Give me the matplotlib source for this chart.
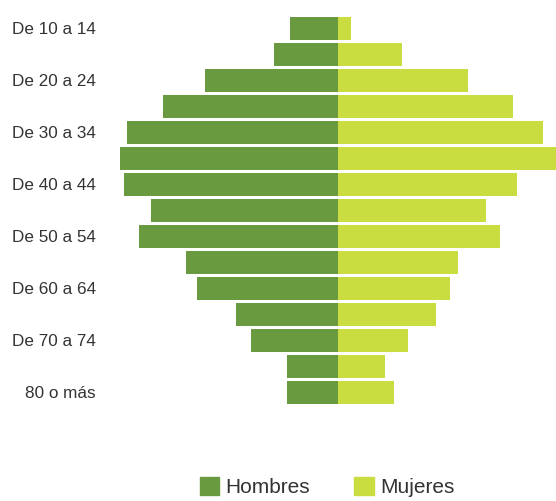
import numpy as np
import matplotlib
matplotlib.use("Agg")
import matplotlib.pyplot as plt
from matplotlib.patches import Patch

plt.rcParams['font.family'] = ['Liberation Sans', 'DejaVu Sans']

# grupos de edad, de arriba a abajo
grupos = ["De 10 a 14", "De 15 a 19", "De 20 a 24", "De 25 a 29", "De 30 a 34",
          "De 35 a 39", "De 40 a 44", "De 45 a 49", "De 50 a 54", "De 55 a 59",
          "De 60 a 64", "De 65 a 69", "De 70 a 74", "De 75 a 79", "80 o más"]
hombres = [48, 64, 133, 175, 211, 218, 214, 187, 199, 152, 141, 102, 87, 51, 51]
mujeres = [13, 64, 130, 175, 205, 224, 179, 148, 162, 120, 112, 98, 70, 47, 56]

verde = "#699A40"
lima = "#C9DC40"
gris = "#333333"

fig = plt.figure(figsize=(5.56, 5.01), dpi=100)
ax = fig.add_axes([100 / 556, (501 - 418.5) / 501, 456 / 556, 416 / 501])

y = np.arange(len(grupos))
ax.barh(y, -np.array(hombres), height=0.885, color=verde, linewidth=0)
ax.barh(y, mujeres, height=0.885, color=lima, linewidth=0)

ax.set_xlim(-238, 218)
ax.set_ylim(15, -1)
ax.set_xticks([])
ax.set_yticks(y[::2])
ax.set_yticklabels(grupos[::2], fontsize=12.3, color=gris)
ax.tick_params(axis='y', length=0, pad=3)
for s in ax.spines.values():
    s.set_visible(False)

handles = [Patch(color=verde, label="Hombres"), Patch(color=lima, label="Mujeres")]
leg = fig.legend(handles=handles, loc="center", bbox_to_anchor=(327 / 556, 1 - 487 / 501),
                 ncol=2, frameon=False, fontsize=15, handlelength=0.95, handleheight=0.95,
                 handletextpad=0.3, columnspacing=2.1, borderaxespad=0, borderpad=0)
for t in leg.get_texts():
    t.set_color(gris)

fig.savefig("out.png", dpi=100)
